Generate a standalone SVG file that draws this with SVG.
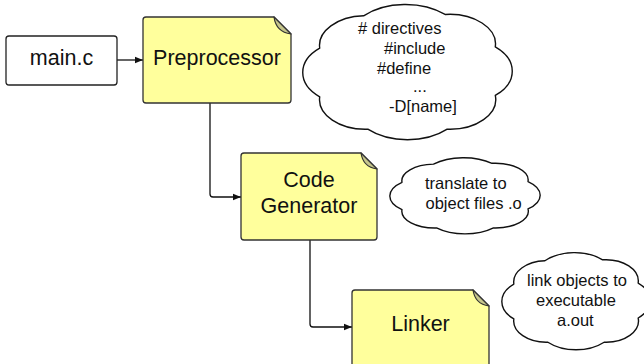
<svg xmlns="http://www.w3.org/2000/svg" width="644" height="364" viewBox="0 0 644 364">
  <style>
    .box { fill: #ffffff; stroke: #222222; stroke-width: 1.3; }
    .note { fill: #ffff9c; stroke: #333333; stroke-width: 1.3; stroke-linejoin: round; }
    .fold { fill: #c6c68c; stroke: #333333; stroke-width: 1.2; stroke-linejoin: round; }
    .cloud { fill: #ffffff; stroke: #111111; stroke-width: 1.4; stroke-linejoin: round; }
    .label { font-family: "Liberation Sans", Arial, sans-serif; font-size: 21.5px; fill: #111111; }
    .small { font-family: "Liberation Sans", Arial, sans-serif; font-size: 16.5px; fill: #111111; }
    .edge { fill: none; stroke: #111111; stroke-width: 1.3; }
  </style>
  <defs>
    <marker id="arrow" viewBox="0 0 10 10" refX="10" refY="5" markerWidth="8" markerHeight="8" markerUnits="userSpaceOnUse" orient="auto">
      <path d="M0,1 L10,5 L0,9 Z" fill="#111111"/>
    </marker>
  </defs>

  <!-- connectors -->
  <g id="connectors">
    <path class="edge" d="M117,60 H143" marker-end="url(#arrow)"/>
    <path class="edge" d="M210,103 V194 Q210,197 213,197 H241" marker-end="url(#arrow)"/>
    <path class="edge" d="M310,240 V324 Q310,327 313,327 H352" marker-end="url(#arrow)"/>
  </g>

  <!-- source file -->
  <g id="main-c">
    <rect class="box" x="6" y="36" width="111" height="49" rx="3"/>
    <text class="label" x="61.5" y="65" text-anchor="middle">main.c</text>
  </g>

  <!-- preprocessor stage -->
  <g id="preprocessor">
    <path class="note" d="M146,17 H274 L291,34 V100 Q291,103 288,103 H146 Q143,103 143,100 V20 Q143,17 146,17 Z"/>
    <path class="fold" d="M274,17 Q276,32 291,34 Z"/>
    <text class="label" x="217" y="65" text-anchor="middle">Preprocessor</text>
  </g>

  <!-- code generation stage -->
  <g id="code-generator">
    <path class="note" d="M244,153 H361 L377,169 V237 Q377,240 374,240 H244 Q241,240 241,237 V156 Q241,153 244,153 Z"/>
    <path class="fold" d="M361,153 Q363,167 377,169 Z"/>
    <text class="label" x="309" y="187" text-anchor="middle">Code</text>
    <text class="label" x="309" y="213" text-anchor="middle">Generator</text>
  </g>

  <!-- link stage -->
  <g id="linker">
    <path class="note" d="M355,290 H473 L489,306 V372 H352 V293 Q352,290 355,290 Z"/>
    <path class="fold" d="M473,290 Q475,304 489,306 Z"/>
    <text class="label" x="420.5" y="331" text-anchor="middle">Linker</text>
  </g>

  <!-- annotation clouds: a 100x100 cloud outline scaled into each box -->
  <g id="cloud-directives">
    <path class="cloud" vector-effect="non-scaling-stroke" transform="translate(303,5) scale(2.09,1.35)" d="M8,32 A22,22 0 0 1 29,8 A28,28 0 0 1 68,7 A22,22 0 0 1 92,31 A24,24 0 0 1 92,67 A22,22 0 0 1 69,92 A27,27 0 0 1 31,92 A22,22 0 0 1 8,68 A24,24 0 0 1 8,32 Z"/>
    <text class="small" x="358" y="34"># directives</text>
    <text class="small" x="384" y="54">#include</text>
    <text class="small" x="377" y="74">#define</text>
    <text class="small" x="413" y="92">...</text>
    <text class="small" x="389" y="112">-D[name]</text>
  </g>

  <g id="cloud-translate">
    <path class="cloud" vector-effect="non-scaling-stroke" transform="translate(390,158) scale(1.5,0.76)" d="M8,32 A22,22 0 0 1 29,8 A28,28 0 0 1 68,7 A22,22 0 0 1 92,31 A24,24 0 0 1 92,67 A22,22 0 0 1 69,92 A27,27 0 0 1 31,92 A22,22 0 0 1 8,68 A24,24 0 0 1 8,32 Z"/>
    <text class="small" x="425" y="189">translate to</text>
    <text class="small" x="425.5" y="209">object files .o</text>
  </g>

  <g id="cloud-link">
    <path class="cloud" vector-effect="non-scaling-stroke" transform="translate(502,253) scale(1.48,0.97)" d="M8,32 A22,22 0 0 1 29,8 A28,28 0 0 1 68,7 A22,22 0 0 1 92,31 A24,24 0 0 1 92,67 A22,22 0 0 1 69,92 A27,27 0 0 1 31,92 A22,22 0 0 1 8,68 A24,24 0 0 1 8,32 Z"/>
    <text class="small" x="527" y="286">link objects to</text>
    <text class="small" x="536" y="306">executable</text>
    <text class="small" x="557" y="326">a.out</text>
  </g>
</svg>
